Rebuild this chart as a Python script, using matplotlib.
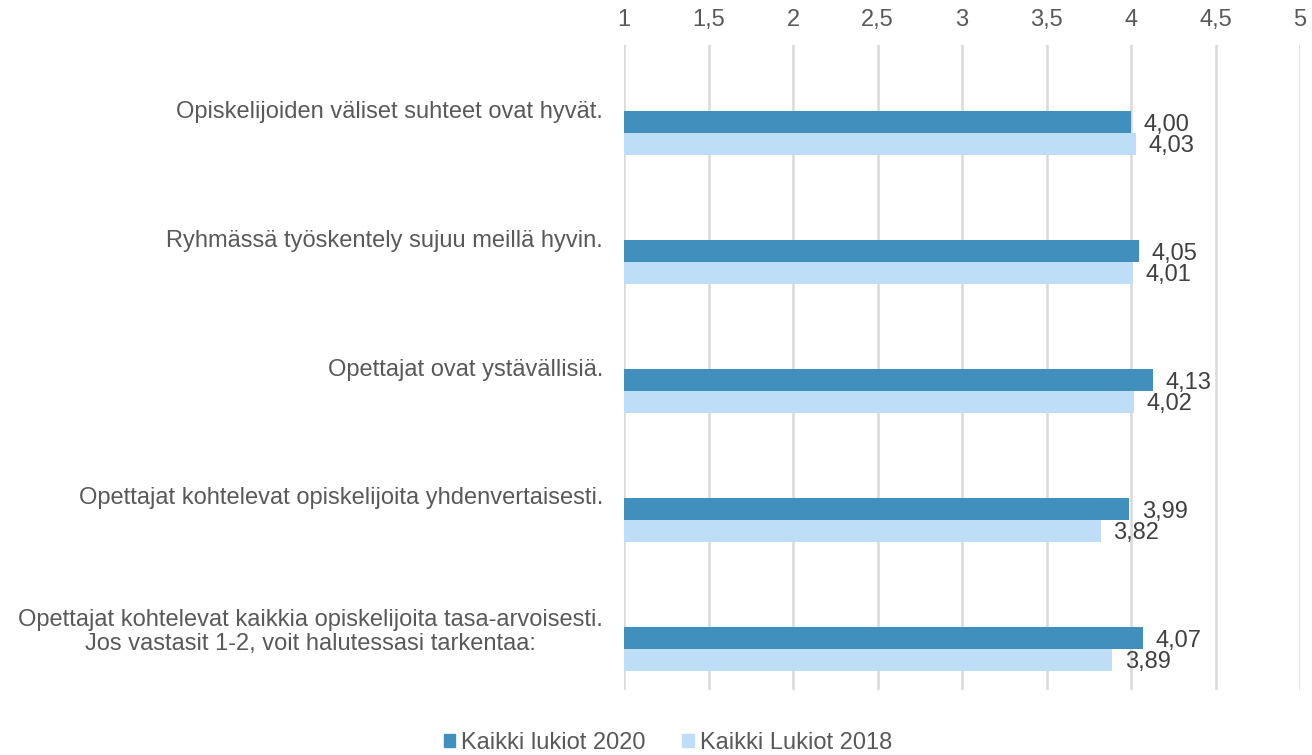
import matplotlib
matplotlib.use("Agg")
import matplotlib.pyplot as plt
from matplotlib.patches import Patch

plt.rcParams['font.family'] = ['Liberation Sans', 'DejaVu Sans']

categories = [
    "Opiskelijoiden väliset suhteet ovat hyvät.",
    "Ryhmässä työskentely sujuu meillä hyvin.",
    "Opettajat ovat ystävällisiä.",
    "Opettajat kohtelevat opiskelijoita yhdenvertaisesti.",
    "Opettajat kohtelevat kaikkia opiskelijoita tasa-arvoisesti.\nJos vastasit 1-2, voit halutessasi tarkentaa:",
]
series_2020 = [4.00, 4.05, 4.13, 3.99, 4.07]
series_2018 = [4.03, 4.01, 4.02, 3.82, 3.89]
series_names = ["Kaikki lukiot 2020", "Kaikki Lukiot 2018"]
xticks = [1, 1.5, 2, 2.5, 3, 3.5, 4, 4.5, 5]
xtick_labels = ["1", "1,5", "2", "2,5", "3", "3,5", "4", "4,5", "5"]

c_dark = "#418FBC"
c_light = "#BDDEF6"
txt_gray = "#595959"
val_gray = "#404040"
fs = 17

fig = plt.figure(figsize=(13.12, 7.55), dpi=100)
ax = fig.add_axes([624/1312, 1-690/755, 676/1312, 645/755])

bh = 0.17
base = 1
for i, (a, b) in enumerate(zip(series_2020, series_2018)):
    ax.barh(i + 0.01 + bh/2, a - base, left=base, height=bh, color=c_dark, zorder=3)
    ax.barh(i + 0.01 + bh*1.5, b - base, left=base, height=bh, color=c_light, zorder=3)
    ax.annotate(f"{a:.2f}".replace(".", ","), (a, i + 0.01 + bh/2), xytext=(9, -2),
                textcoords="offset points", va="center", ha="left", fontsize=fs, color=val_gray)
    ax.annotate(f"{b:.2f}".replace(".", ","), (b, i + 0.01 + bh*1.5), xytext=(9, -2),
                textcoords="offset points", va="center", ha="left", fontsize=fs, color=val_gray)

ax.set_xlim(1, 5)
ax.set_ylim(4.5, -0.5)
ax.set_xticks(xticks)
ax.set_xticklabels(xtick_labels, fontsize=fs, color=txt_gray)
ax.xaxis.tick_top()
ax.tick_params(axis="x", length=0, pad=10)
ax.set_yticks([])
ax.grid(axis="x", color="#D9D9D9", linewidth=1.8, zorder=0)
for s in ax.spines.values():
    s.set_visible(False)

label_y = [0.02, 1.02, 2.02, 3.01, 4.05]
for i, (cat, ly) in enumerate(zip(categories, label_y)):
    ax.text(-0.031, ly, cat, transform=ax.get_yaxis_transform(), ha="right", va="center",
            multialignment="center", fontsize=fs, color=txt_gray, linespacing=1.1)

handles = [Patch(color=c_dark), Patch(color=c_light)]
fig.legend(handles, series_names, loc="center", bbox_to_anchor=(668/1312, 1-743/755), ncol=2,
           frameon=False, fontsize=fs, handlelength=0.5, handleheight=0.5, handletextpad=0.25,
           columnspacing=1.55, labelcolor=txt_gray)

fig.savefig("out.png", dpi=100)
